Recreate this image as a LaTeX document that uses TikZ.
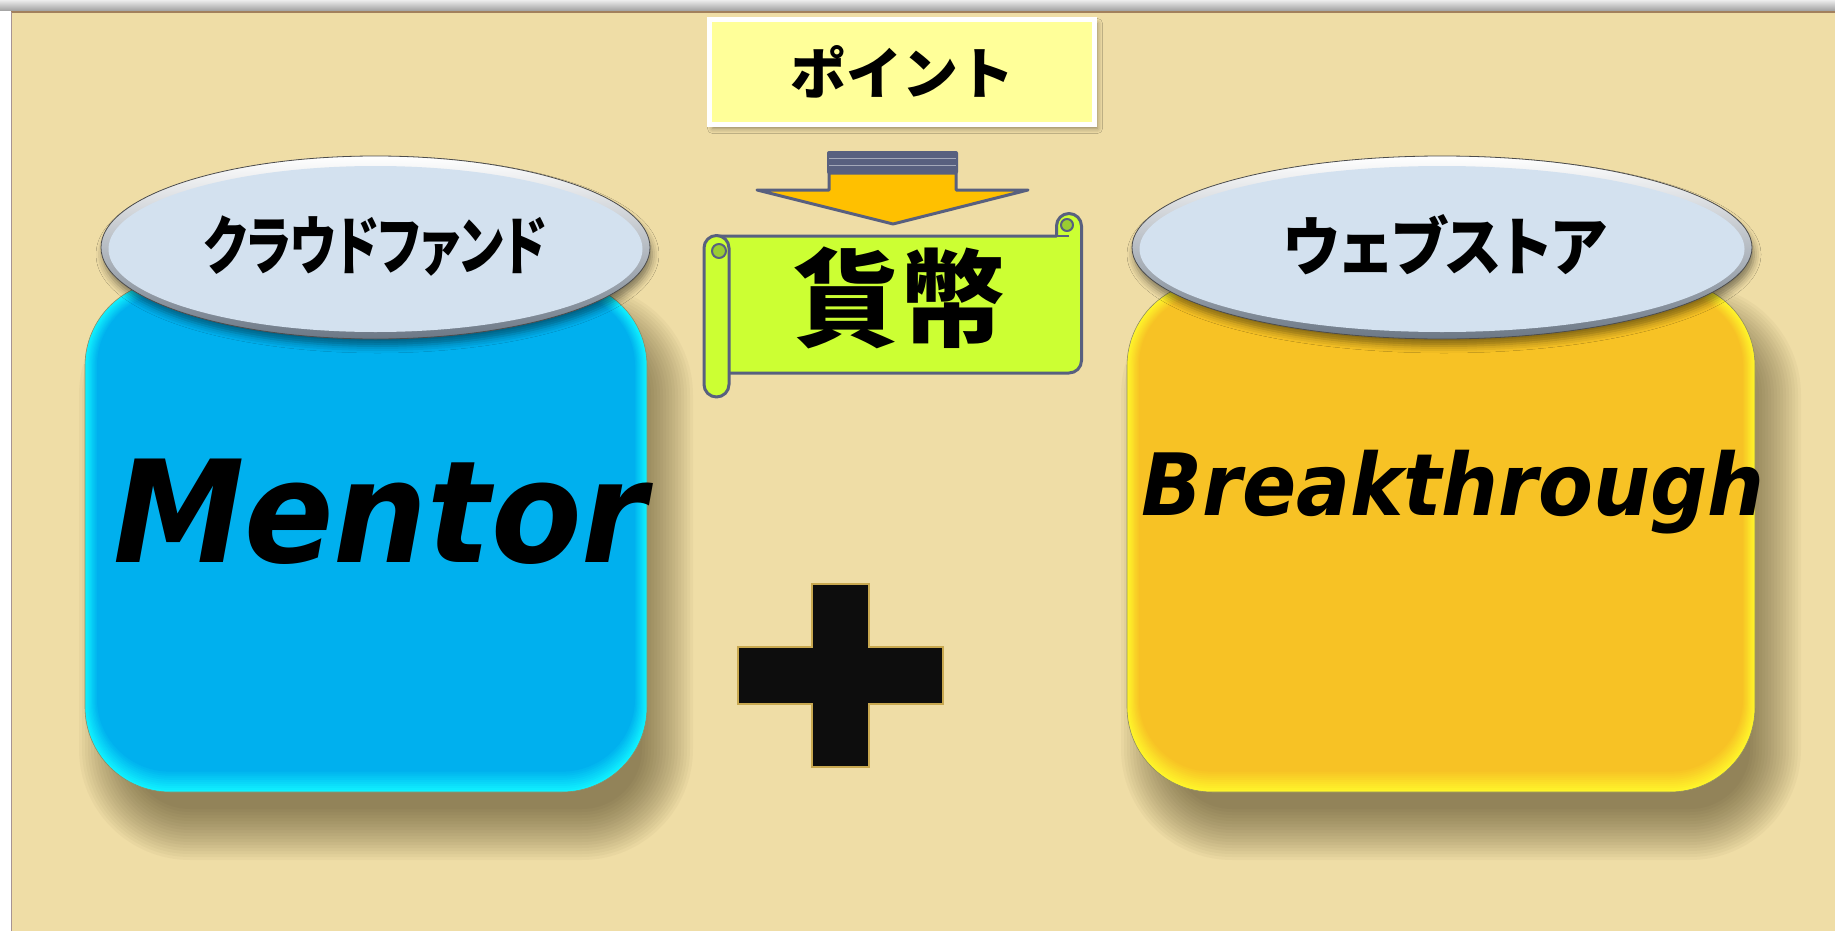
\documentclass[tikz,border=0pt]{standalone}
\usepackage{fontspec}
\usepackage{graphicx}
\usetikzlibrary{shadows.blur}
\newfontfamily\jpfont{Noto Sans CJK JP}[RawFeature=+palt]
\newfontfamily\jpfull{Noto Sans CJK JP}
\newfontfamily\latfont{DejaVu Sans}
\definecolor{beige}{HTML}{EFDDA6}
\definecolor{pointfill}{HTML}{FFFF99}
\definecolor{limeC}{HTML}{CCFF33}
\definecolor{limeD}{HTML}{9ACD32}
\definecolor{arrowC}{HTML}{FFC000}
\definecolor{slateC}{HTML}{58607F}
\definecolor{blueIn}{HTML}{00B0EE}
\definecolor{blueEdge}{HTML}{10F2FF}
\definecolor{yelIn}{HTML}{F7C225}
\definecolor{yelEdge}{HTML}{FFF52A}
\definecolor{ellFill}{HTML}{D3E1EF}
\definecolor{rimDark}{HTML}{6C7886}
\definecolor{plusEdge}{HTML}{C8A850}
\definecolor{shadowC}{HTML}{3A3010}
\begin{document}
\begin{tikzpicture}[x=1pt,y=-1pt,
  slate/.style={draw=slateC, line width=3pt, line join=round},
  ellshadow/.style={blur shadow={shadow xshift=2pt, shadow yshift=-7pt, shadow blur radius=7pt, shadow opacity=45}},
  jplabel/.style={font=\jpfont\bfseries\fontsize{64}{68}\selectfont, inner sep=0pt},
  biglabel/.style={font=\latfont\bfseries\itshape, inner sep=0pt, anchor=base}]
\useasboundingbox (0,0) rectangle (1835,931);
% background
\fill[white] (0,0) rectangle (1835,931);
\shade[top color=gray!15, bottom color=gray!75] (0,0) rectangle (1835,11);
\fill[beige] (11,12) rectangle (1835,931);
\draw[brown!55!gray, line width=1.5pt] (11,12) -- (1835,12);
\draw[gray!70!pink, line width=1pt] (11,12) -- (11,931);

% soft shadows of the two bodies
\foreach \xa/\xb in {85/647, 1127/1755}{
  \foreach \i in {0,...,17}{
    \pgfmathsetmacro\d{-26+\i*3}
    \pgfmathsetmacro\r{max(85-\d,5)}
    \fill[shadowC, opacity=0.035, rounded corners=\r pt] (\xa+20+\d, 310+\d) rectangle (\xb+20-\d, 834-\d);
  }
}

% left body
\fill[blueEdge, rounded corners=85pt] (85,281) rectangle (647,792);
\foreach \i in {1,...,10}{
  \pgfmathsetmacro\p{\i*10}
  \pgfmathsetmacro\d{\i*1.2}
  \pgfmathsetmacro\r{85-\i*1.2}
  \fill[blueIn!\p!blueEdge, rounded corners=\r pt] (85+\d,281+\d) rectangle (647-\d,792-1.7*\d);
}
\draw[gray!70!olive, line width=0.6pt, rounded corners=85pt] (85,281) rectangle (647,792);
% right body
\fill[yelEdge, rounded corners=85pt] (1127,281) rectangle (1755,792);
\foreach \i in {1,...,10}{
  \pgfmathsetmacro\p{\i*10}
  \pgfmathsetmacro\d{\i*1.2}
  \pgfmathsetmacro\r{85-\i*1.2}
  \fill[yelIn!\p!yelEdge, rounded corners=\r pt] (1127+\d,281+\d) rectangle (1755-\d,792-1.7*\d);
}
\draw[gray!70!olive, line width=0.6pt, rounded corners=85pt] (1127,281) rectangle (1755,792);

% ellipses
\shade[ellshadow, top color=white, bottom color=rimDark] (375.5,247.5) ellipse [x radius=274.5, y radius=91.5];
\fill[ellFill] (375.5,249) ellipse [x radius=267, y radius=83];
\draw[gray!60!black, line width=0.8pt] (375.5,247.5) ellipse [x radius=274.5, y radius=91.5];
\shade[ellshadow, top color=white, bottom color=rimDark] (1442,247.5) ellipse [x radius=310, y radius=91.5];
\fill[ellFill] (1442,249) ellipse [x radius=302.5, y radius=83];
\draw[gray!60!black, line width=0.8pt] (1442,247.5) ellipse [x radius=310, y radius=91.5];

\node[jplabel] (crowd) at (375,246) {\scalebox{0.75}[1]{クラウドファンド}};
\node[jplabel] (store) at (1445,245) {\scalebox{0.92}[1]{ウェブストア}};

% big labels
\node[biglabel, font=\latfont\bfseries\itshape\fontsize{142}{150}\selectfont] (mentor) at (380,562) {\scalebox{0.93}[1]{Mentor}};
\node[biglabel, font=\latfont\bfseries\itshape\fontsize{86}{90}\selectfont] (brk) at (1453,515) {\scalebox{0.93}[1]{Breakthrough}};

% point box
\node[draw=white, line width=5pt, fill=pointfill, minimum width=385pt, minimum height=105pt, inner sep=0pt,
  blur shadow={shadow xshift=3pt, shadow yshift=-4pt, shadow blur radius=5pt, shadow opacity=40},
  font=\jpfull\bfseries\fontsize{56}{60}\selectfont] (point) at (902,72) {ポイント};

% arrow
\fill[slateC, rounded corners=2pt] (827,151) rectangle (958,174);
\draw[slateC!55!white, line width=1.2pt] (829,158.5) -- (956,158.5);
\draw[slateC!55!white, line width=1.2pt] (829,165.5) -- (956,165.5);
\filldraw[slate, fill=arrowC] (829,173) -- (829,190) -- (757,190) -- (893,224) -- (1028,190) -- (956,190) -- (956,173) -- cycle;

% scroll
\filldraw[slate, fill=limeC] (716,236) -- (1056.5,236) -- (1056.5,226) arc[start angle=180, end angle=360, radius=12.5]
  -- (1081.5,360.5) arc[start angle=0, end angle=90, radius=12.5] -- (729,373) -- (716,373) -- cycle;
\filldraw[slate, line width=2pt, fill=limeD] (1067,225) circle [radius=6];
\draw[slate, line width=2pt] (1056.5,236) -- (1069,236);
\filldraw[slate, fill=limeC] (704,248) -- (704,384.5) arc[start angle=180, end angle=0, radius=12.5]
  -- (729,248) arc[start angle=0, end angle=-180, radius=12.5] -- cycle;
\filldraw[slate, line width=2pt, fill=limeD] (719,251) circle [radius=7];
\node[font=\jpfull\bfseries\fontsize{106}{110}\selectfont, inner sep=0pt] (money) at (899,298) {貨幣};

% plus
\filldraw[fill=black!95, draw=plusEdge, line width=1.5pt]
  (812,584) -- (869,584) -- (869,647) -- (943,647) -- (943,704) -- (869,704) -- (869,767)
  -- (812,767) -- (812,704) -- (738,704) -- (738,647) -- (812,647) -- cycle;
\end{tikzpicture}
\end{document}
